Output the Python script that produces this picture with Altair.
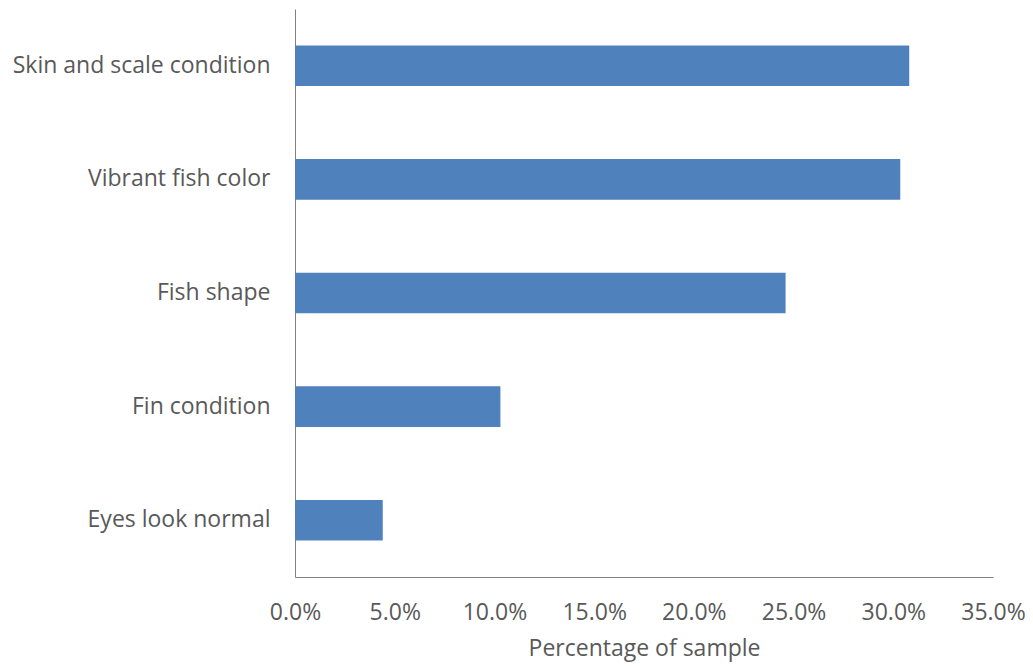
import altair as alt
import pandas as pd

categories = ["Skin and scale condition", "Vibrant fish color", "Fish shape", "Fin condition", "Eyes look normal"]
values = [0.308, 0.3035, 0.246, 0.103, 0.044]

df = pd.DataFrame({"category": categories, "value": values})

FONT = "Open Sans"
TXT = "#595959"

chart = alt.Chart(df).mark_bar(color="#4F81BD").encode(
    x=alt.X("value:Q",
            scale=alt.Scale(domain=[0, 0.35], nice=False),
            axis=alt.Axis(format=".1%", values=[0, 0.05, 0.1, 0.15, 0.2, 0.25, 0.3, 0.35],
                          title="Percentage of sample", grid=False, ticks=False,
                          domainColor="#808080", domainWidth=1,
                          labelFont=FONT, labelFontSize=23, labelColor=TXT, labelPadding=24,
                          titleFont=FONT, titleFontSize=23, titleColor=TXT, titleFontWeight="normal",
                          titlePadding=13, labelFlush=False)),
    y=alt.Y("category:N", sort=categories,
            scale=alt.Scale(paddingInner=0.643, paddingOuter=0.3215),
            axis=alt.Axis(title=None, grid=False, ticks=False,
                          domainColor="#808080", domainWidth=1,
                          labelFont=FONT, labelFontSize=23, labelColor=TXT, labelPadding=25,
                          labelLimit=400)),
).properties(
    width=698, height=568,
    background="white",
    autosize=alt.AutoSizeParams(type="none"),
    padding={"left": 295, "top": 9, "right": 40, "bottom": 89},
).configure_view(strokeWidth=0, stroke="transparent")

chart.save("out.html", embed_options={"renderer": "svg", "actions": False})
